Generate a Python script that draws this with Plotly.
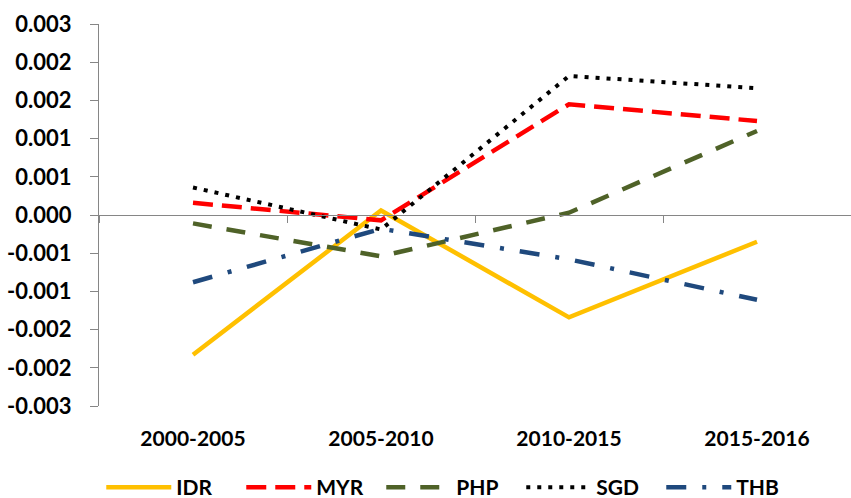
import plotly.graph_objects as go

categories = ["2000-2005", "2005-2010", "2010-2015", "2015-2016"]
idr = [-0.00183, 0.00006, -0.00134, -0.00035]
myr = [0.00016, -0.00007, 0.00145, 0.00123]
php = [-0.00011, -0.00054, 0.00003, 0.00110]
sgd = [0.00036, -0.00019, 0.00182, 0.00166]
thb = [-0.00088, -0.00018, -0.00058, -0.00111]

ytick_vals = [-0.0025, -0.002, -0.0015, -0.001, -0.0005, 0.0, 0.0005, 0.001, 0.0015, 0.002, 0.0025]
ytick_text = ["-0.003", "-0.002", "-0.002", "-0.001", "-0.001", "0.000", "0.001", "0.001", "0.002", "0.002", "0.003"]

series = [
    ("IDR", idr, "#FFC000", "solid", 4.5),
    ("MYR", myr, "#FF0000", "20px,9px", 4.5),
    ("PHP", php, "#4F6228", "19px,15px", 4.5),
    ("SGD", sgd, "#000000", "4px,7px", 4),
    ("THB", thb, "#1F497D", "20px,16px,4px,16px", 4.5),
]

FONT = "Lato"
fig = go.Figure()
for name, vals, color, dash, w in series:
    fig.add_trace(go.Scatter(
        x=categories, y=vals, name=name, mode="lines",
        line=dict(color=color, dash=dash, width=w),
    ))

fig.update_layout(
    width=851, height=498,
    margin=dict(l=99, r=0, t=24, b=92, autoexpand=False),
    plot_bgcolor="white", paper_bgcolor="white",
    font=dict(family=FONT, size=21, color="black", weight="bold"),
    showlegend=True,
    legend=dict(orientation="h", x=0.119, xref="container", xanchor="left",
                y=0.062, yref="container", yanchor="top",
                font=dict(family=FONT, size=21, color="black", weight="bold"),
                itemwidth=65,
                entrywidth=60, entrywidthmode="pixels", tracegroupgap=0),
    xaxis=dict(type="category", categoryarray=categories, range=[-0.5, 3.5],
               showline=False, ticks="", showgrid=False, zeroline=False,
               ticklabelstandoff=18, automargin=False,
               tickfont=dict(family=FONT, size=21, color="black", weight="bold")),
    xaxis2=dict(type="category", categoryarray=categories, range=[-0.5, 3.5],
                overlaying="x", anchor="free", position=0.5, side="bottom",
                showline=True, linecolor="#868686", linewidth=1.3, automargin=False,
                ticks="outside", tickson="boundaries", ticklen=7, tickcolor="#868686",
                showticklabels=False, showgrid=False, zeroline=False),
    yaxis=dict(range=[-0.0025, 0.0025], tickvals=ytick_vals, ticktext=ytick_text,
               showline=True, linecolor="#868686", linewidth=1.3, automargin=False,
               ticks="outside", ticklen=8, tickcolor="#868686",
               showgrid=False, zeroline=False, ticklabelstandoff=14,
               tickfont=dict(family=FONT, size=22, color="black", weight="bold")),
)
fig.add_trace(go.Scatter(x=categories, y=[None]*4, xaxis="x2", showlegend=False,
                         hoverinfo="skip", mode="lines"))

fig.write_html("out.html", config={"displayModeBar": False},
               post_script="document.body.style.margin='0';document.body.style.overflow='hidden';")
